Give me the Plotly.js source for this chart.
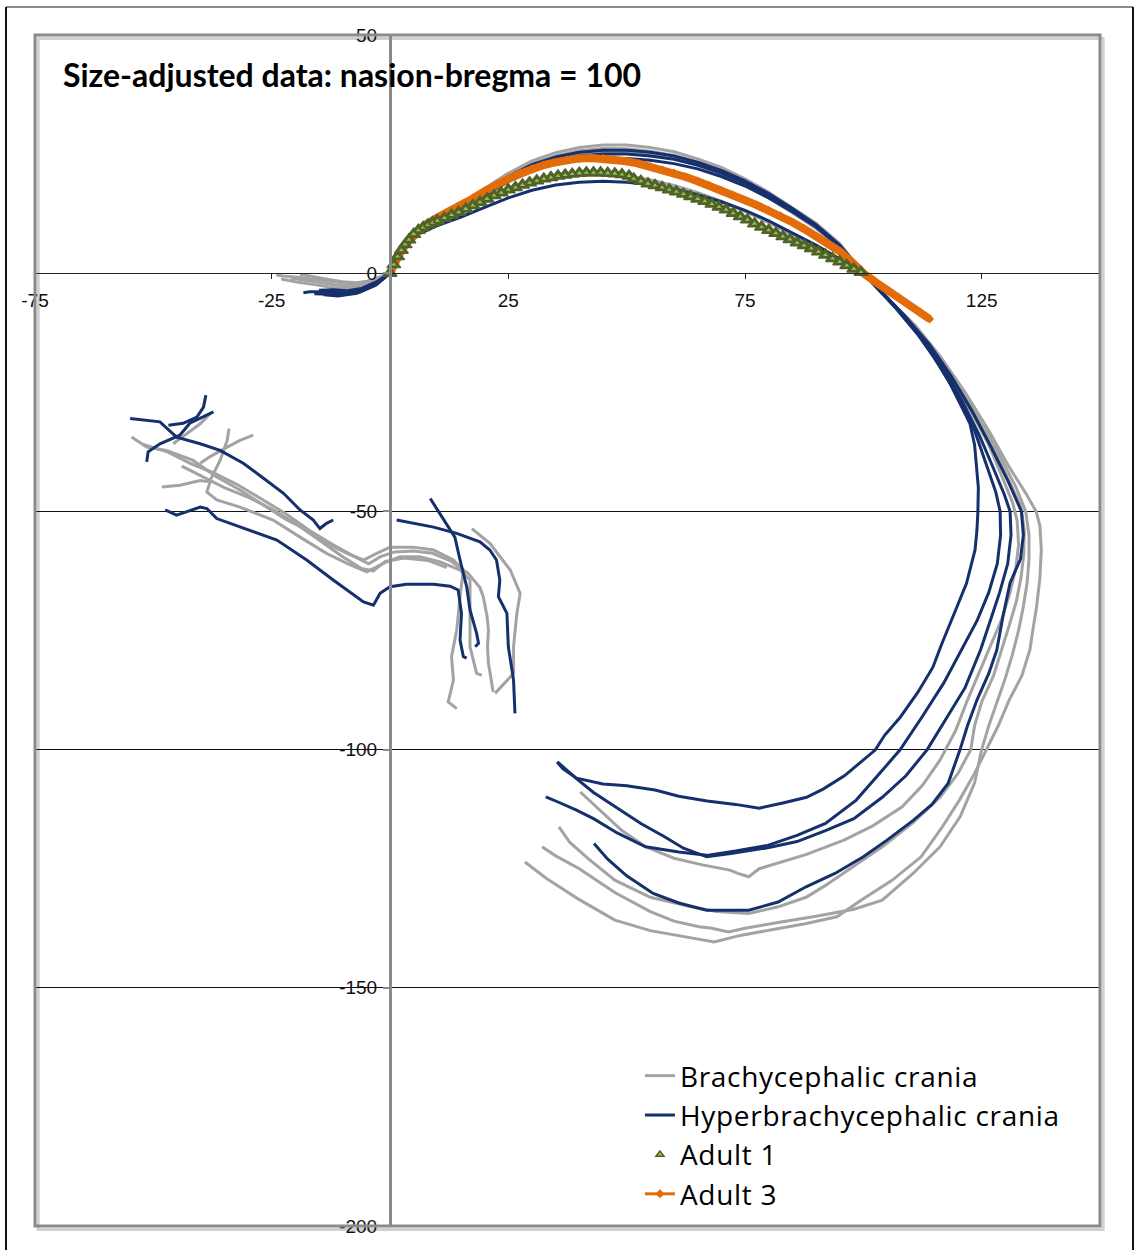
<!DOCTYPE html>
<html>
<head>
<meta charset="utf-8">
<script src="https://cdn.plot.ly/plotly-3.0.1.min.js"></script>
<style>
html,body{margin:0;padding:0;background:#fff;}
#chart{width:1136px;height:1250px;}
.legendtext{letter-spacing:0.7px;}
</style>
</head>
<body>
<div id="chart"></div>
<script>
// ---------- DATA (data units) ----------
const xTicks = [-75, -25, 25, 75, 125];
const yTicks = [-200, -150, -100, -50, 0, 50];
const legendNames = ["Brachycephalic crania", "Hyperbrachycephalic crania", "Adult 1", "Adult 3"];

// shared x positions used for the frontal/parietal arc (nasion 0 -> bregma 100)
const arcX = [0,1.5,3,6,10,15,20,25,30,35,40,45,50,55,60,65,70,75,80,85,90,95,100];

// ---- Brachycephalic crania (grey) ----
const brachy1_nasalX = [-23,-20,-16,-12,-8,-4.5,-2];
const brachy1_nasalY = [-1.2,-1.8,-2.4,-3,-3.2,-2.5,-1.2];
const brachy1_arcY = [0,3,5.5,8.8,11,13,15.3,17.4,19,20.1,20.7,20.8,20.4,19.6,18.4,16.9,15.1,13,10.6,8,5.4,2.7,0];
const brachy1_backX = [104.5,109,113.5,118,122.5,126.5,129.5,131.5,132.5,132.8,132.2,131,129.3,127,124.5,122,119.5,116.2,112.5,108.2,102,95.9,88,82,78,75.8,73.5,71.8,66,60,54,49,44,40.2];
const brachy1_backY = [-4.6,-9.5,-15,-21.5,-28.5,-36,-43,-48,-52,-57,-62,-67,-72.5,-78,-84,-89.6,-96,-102.2,-107.5,-112,-116,-119,-122,-123.8,-125,-126.7,-126,-125.3,-124.2,-122.8,-120.4,-117,-112.5,-108.9];
const brachy1_faceX = [-44,-40,-35,-30,-25,-20,-15,-10,-6,-3.5,-1,3,8,12];
const brachy1_faceY = [-40.5,-42.5,-45,-47,-49.5,-52.5,-56,-59.5,-62,-62.5,-60.5,-59.8,-60.3,-61.8];
const brachy1_baseX = [17.3,21.1,25.4,27.5,26.8,26.1,26.1,22.2];
const brachy1_baseY = [-53.6,-56.7,-62.3,-67.2,-71.4,-78.4,-84,-88.2];
const brachy1_twigX = [-40.1,-38,-34.4,-31.7,-28.9];
const brachy1_twigY = [-39.9,-38.5,-36.5,-35.1,-34];

const brachy2_nasalX = [-19,-16,-13,-10,-7,-4,-2];
const brachy2_nasalY = [-0.2,-0.8,-1.3,-1.8,-2,-1.6,-0.8];
const brachy2_arcY = [0,3.2,5.8,9.2,11.5,13.9,17,20,22.4,24,25,25.5,25.4,24.9,24,22.6,20.8,18.5,15.8,12.7,9.4,5.2,0];
const brachy2_backX = [104.8,109.8,114.5,119.3,123.8,127.8,131,133.3,134,133.9,133.3,132.3,130.8,129.3,127.5,125,123.5,122.7,120,116.2,110.5,104,98,92,87.9,82,75.8,69,63.6,55,47.5,42,38,35.7];
const brachy2_backY = [-4.9,-10,-15.8,-22.5,-30,-37.5,-44,-49,-54,-59,-64,-69,-74,-79,-84.5,-90,-95,-100,-105,-110,-115.3,-120.4,-124.5,-128.5,-131,-133,-134.4,-134,-133,-131,-127.4,-123,-119.5,-116.2];
const brachy2_faceX = [-52,-47,-42,-37,-32,-27,-22,-17,-12,-7.5,-4.5,-2,1,5,9,13,16.5,19,19.7,20.5,20.8,20.6,20.8,21.8];
const brachy2_faceY = [-36,-37.5,-40,-42,-44.5,-47.5,-50.5,-54,-57,-59.5,-61,-59.5,-58.5,-58.3,-58.8,-60.5,-63,-66,-67.9,-72,-74.9,-78.5,-81.9,-87.9];
const brachy2_twigX = [-45.8,-43,-40.1,-38];
const brachy2_twigY = [-35.8,-33.7,-31.6,-29.5];

const brachy3_nasalX = [-21,-18,-15,-12,-8.5,-5,-2.5];
const brachy3_nasalY = [-1,-1.5,-2,-2.4,-2.8,-2.3,-1.2];
const brachy3_arcY = [0,3.4,5.9,9.4,11.8,14.2,17.4,20.5,23,24.6,25.7,26.2,26.1,25.6,24.7,23.3,21.5,19.2,16.4,13.3,10,5.8,0];
const brachy3_backX = [105,110.3,115.3,120.3,125,129,132.3,134.3,135,135,134.6,133.8,132.8,131.5,130,128.4,126.5,125,123.5,120.5,116.2,110.5,104,98,90,82,75,71.5,68,65.3,60,55,47.5,40,35,32.1];
const brachy3_backY = [-5.2,-10.5,-16.5,-23.5,-31,-38.5,-45,-50,-55,-60,-65,-70,-75,-80,-85,-89.6,-95,-100,-107,-114,-120.4,-126,-131.6,-133.5,-135,-136.3,-137.5,-138.3,-137.5,-137.2,-136,-134,-130,-125,-122.3,-120.4];
const brachy3_faceX = [-48.2,-44.4,-40.1,-38,-38.7,-36.6,-31.7,-24.7,-19,-13.4,-9.1,-4.9,-1.4,2.1,6.3,10.6,14.8,16.9,16.9,16.9,18.3,19.4];
const brachy3_faceY = [-44.9,-44.5,-43.5,-43.8,-45.9,-47.6,-49.1,-51.8,-55.4,-58.8,-60.9,-62.7,-60.9,-59.5,-59.5,-60.6,-62.3,-64.4,-71.4,-78.4,-84,-84.4];
const brachy3_twigX = [-38,-35.9,-34.4,-34];
const brachy3_twigY = [-43.5,-39.3,-35.1,-32.6];

const brachy4_nasalX = [-24,-22.5,-19,-15.5,-12,-8.5,-4.9,-2.5];
const brachy4_nasalY = [-0.4,-0.6,-0.9,-1.3,-1.8,-2.2,-1.8,-1];
const brachy4_arcY = [0,3.5,6,9.7,12,14.5,17.8,21,23.6,25.3,26.4,26.9,26.9,26.4,25.5,24,22.2,19.8,17,13.8,10.5,6.2,0];
const brachy4_backX = [105.3,111,116.3,121.5,126.5,130.7,134.2,136.5,137.3,137.6,137.3,136.6,135.8,135.2,133.5,130.8,128.5,126,123.5,120.3,116.5,112.2,106,100,94.4,88,79.8,74,68.5,62,55,47.5,40,33,28.5];
const brachy4_backY = [-5.5,-11,-17.5,-25,-33,-40.5,-46,-50,-53,-58,-64,-70,-75,-79,-84.5,-89.6,-95,-100,-105,-110.6,-116.5,-122.5,-127.5,-131.3,-135.1,-136.5,-137.9,-139,-140.4,-139.3,-138,-135.8,-131.5,-127,-123.6];
const brachy4_faceX = [-54.6,-51.4,-47.2,-41.6,-36.6,-31.7,-26.1,-21.8,-17.6,-13.4,-9.1,-5.6,-2.8,0,4.9,9.2,13.4,15.5,14.8,14.1,13,13.4,12.3,14.1];
const brachy4_faceY = [-34.4,-36.5,-37.2,-39.3,-42.8,-45.5,-49.1,-51.8,-53.9,-56.7,-58.8,-60.2,-58.8,-57.5,-57.5,-58.1,-60.2,-62.3,-67.9,-74.9,-80.5,-85.4,-90,-91.4];

// ---- Hyperbrachycephalic crania (navy) ----
const hyper1_nasalX = [-18.3,-16.9,-13.4,-9.9,-6.3,-2.8];
const hyper1_nasalY = [-4.1,-3.9,-3.9,-4.1,-3.6,-2.2];
const hyper1_arcY = [0,3.3,5.9,9.3,11.6,14,17.2,20.3,22.8,24.4,25.4,25.8,25.8,25.4,24.6,23.3,21.6,19.4,16.7,13.6,10.2,5.9,0];
const hyper1_backX = [103.5,107,111.3,115,118.3,120.8,122.5,123.5,124,124.3,124.2,124,123.6,122.8,121.8,120,118.3,116.5,114.7,111.5,107.8,104.5,102.5,96,91.5,88,83,78,73,67,61,56,50,45,39.4,36.5,35.3];
const hyper1_backY = [-3.8,-7.5,-12.6,-17.8,-23.1,-28,-31.5,-36,-40.7,-45,-50.1,-54,-58.1,-61.5,-65.1,-69.5,-73.5,-78,-82.7,-88,-93.2,-97,-100.1,-105.5,-108.3,-110,-111.2,-112.3,-111.5,-110.8,-109.8,-108.5,-107.6,-107.2,-106,-104,-102.6];
const hyper1_faceX = [-54.9,-50.7,-48.6,-45.1,-40.1,-35.9,-31,-26.1,-22.5,-19,-16.2,-14.8,-13.4,-12];
const hyper1_faceY = [-30.5,-30.9,-31.2,-34.4,-35.8,-37.2,-39.9,-43.5,-46.2,-49.7,-51.8,-53.6,-52.5,-51.8];
const hyper1_baseX = [1.4,9.2,14.1,19,21.1,22.5,23.2,22.9,24.7,25,26.1,26.4];
const hyper1_baseY = [-51.8,-53.3,-54.6,-56.4,-58.1,-60.2,-64.4,-67.9,-71.4,-78.4,-85.4,-92.4];

const hyper2_nasalX = [-16,-13,-10,-6.5,-3];
const hyper2_nasalY = [-4.3,-4.4,-4.5,-4,-2.5];
const hyper2_arcY = [0,3.2,5.7,9,11.3,13.7,16.7,19.7,22.1,23.6,24.6,25,25,24.6,23.9,22.7,21,18.9,16.3,13.3,10,5.8,0];
const hyper2_backX = [104,108,112.5,116.5,120,123.5,126,128,128.9,129,128.3,126.5,124,120.8,117,112.5,107.8,103,98.5,92,86,79.8,73,66.9,61,54,48,43,39.4,35.5,32.9];
const hyper2_backY = [-4,-8.5,-14,-20,-26,-33,-40,-46,-50,-55,-61,-67,-73,-79,-86,-93,-100,-105.5,-110.6,-115.5,-118,-120.1,-121.3,-122.2,-121.5,-120.4,-117.5,-114.5,-112.7,-111,-109.9];
const hyper2_faceX = [-47.5,-45.1,-40.1,-38.7,-36.6,-29.6,-23.9,-17.6,-12,-5.6,-3.5,-2.1,0,3.5,9.2,12.7,14.4,15.1,14.8,15.5,16.2];
const hyper2_faceY = [-49.7,-50.8,-49.1,-49.4,-51.5,-53.9,-56,-60.2,-64.4,-69,-69.7,-67.2,-65.8,-65.3,-65.3,-65.7,-66.5,-71.4,-77,-80.5,-80.8];

const hyper3_nasalX = [-15,-12,-9,-6,-3];
const hyper3_nasalY = [-3.6,-3.5,-3.7,-3.2,-1.9];
const hyper3_arcY = [0,3.1,5.6,8.9,11.1,13.4,16.3,19.2,21.5,23,23.9,24.2,24.1,23.7,23,21.9,20.3,18.3,15.8,12.9,9.7,5.6,0];
const hyper3_backX = [104.3,108.8,113,117.3,121,124.5,127.5,129.8,131,131.2,130.5,128.8,126.8,124.8,121.5,117.5,113.5,109,104,98,92,86,79.8,72,66.9,62,58,53,47.5,43,39.4,35.4];
const hyper3_backY = [-4.4,-9,-14.5,-20.5,-27,-34,-41,-46.5,-50,-55,-61,-67,-73,-79,-87,-93.5,-100,-105.5,-110,-114.5,-117,-119.3,-120.6,-121.8,-122.5,-120.7,-118.3,-115.5,-112,-109,-106.1,-102.6];
const hyper3_faceX = [-51.4,-51.1,-48.6,-44.4,-42.3,-39.4,-37.3];
const hyper3_faceY = [-39.6,-37.5,-35.8,-34,-31.5,-30.2,-29.1];
const hyper3_baseX = [8.5,11.3,13.7,14.8,16.2,16.9,18.3,18.7,18];
const hyper3_baseY = [-47.3,-51.8,-55.4,-60.2,-65.8,-70.7,-75.6,-77.7,-78.4];

const hyper4_nasalX = [-14,-11,-7,-3.5];
const hyper4_nasalY = [-4.5,-4.8,-4.2,-2.6];
const hyper4_arcY = [0,2.8,5.2,8.2,10,11.8,13.8,15.8,17.4,18.5,19.1,19.3,19.1,18.6,17.7,16.5,15,13.2,11,8.5,5.9,3,0];
const hyper4_backX = [104.6,109.5,114,118.5,123,127,130.5,133.4,133.8,133.2,131,129.5,128.2,126.5,124,122,120.4,117.9,114.5,110.6,105,100,94,87.9,82,75.8,66.9,61,55.6,50,46,43.1];
const hyper4_backY = [-4.8,-9.8,-15,-21.5,-29,-36.5,-43.5,-50,-55,-60,-65,-72,-79.1,-84,-89.6,-95,-100.1,-107.1,-111.5,-114.8,-119,-122.5,-126,-128.8,-132,-133.7,-133.7,-132.2,-130.2,-126.5,-123,-119.7];
const hyper4_faceX = [-46.8,-43.7,-40.8,-39.4,-38.9];
const hyper4_faceY = [-31.9,-31.5,-30.2,-28.1,-25.6];

// ---- Adult 1 (green triangles) ----
const adult1X = [0,0.8,1.6,2.4,3.2,4,5,6,7,8,9,10,11.5,13,14.5,16,17.5,19,20.5,22,23.5,25,26.5,28,29.5,31,32.5,34,35.5,37,38.5,40,41.5,43,44.5,46,47.5,49,50.5,51.5,53,54.5,56,57.5,59,60.5,62,63.5,65,66.5,68,69.5,71,72.5,74,75.5,77,78.5,80,81.5,83,84.5,86,87.5,89,90.5,92,93.5,95,96.5,98,99.5];
const adult1Y = [0,1.8,3.5,4.8,6,7,8.2,9,9.6,10.1,10.6,11,11.6,12.2,12.8,13.5,14.2,14.9,15.6,16.3,16.9,17.5,18,18.5,19,19.4,19.8,20.1,20.4,20.6,20.8,21,21.1,21.1,21.1,21,20.9,20.7,20.4,19.8,19.3,18.8,18.4,18,17.5,17.1,16.6,16.1,15.6,15.1,14.5,13.9,13.3,12.6,11.9,11.2,10.4,9.7,9,8.4,7.7,7.1,6.4,5.8,5.2,4.5,3.8,3.1,2.4,1.6,0.9,0.2];

// ---- Adult 3 (orange line with diamonds) ----
const adult3X = [0,1,2,3.5,5,7.5,10,12.5,15,17.5,20,22.5,25,27.5,30,32.5,35,37.5,40,42.5,45,47.5,50,52.5,55,57.5,60,62.5,65,67.5,70,72.5,75,77.5,80,82.5,85,87.5,90,92.5,95,97.5,100,102.5,105,107.5,110,112,114];
const adult3Y = [0,2.2,4,6.3,8,10.2,11.7,12.9,14.2,15.7,17.2,18.6,19.8,20.9,21.9,22.7,23.3,23.8,24.1,24.2,24.1,23.9,23.5,23,22.4,21.7,21,20.2,19.3,18.4,17.4,16.4,15.3,14.3,13.2,12,10.7,9.3,7.8,6.3,4.6,2.4,0,-1.8,-3.5,-5.2,-6.9,-8.2,-9.6];

// ---------- BUILD ----------
function joinSegs(segs) {
  const out = [];
  segs.forEach((s, i) => { if (i > 0) out.push(null); s.forEach(v => out.push(v)); });
  return out;
}
const GREY = '#a3a3a3', NAVY = '#15306c', ORANGE = '#e36c0a', GREEN = '#4f6228';

const brachy = [
  {x: joinSegs([[...brachy1_nasalX, ...arcX, ...brachy1_backX], brachy1_faceX, brachy1_baseX, brachy1_twigX]),
   y: joinSegs([[...brachy1_nasalY, ...brachy1_arcY, ...brachy1_backY], brachy1_faceY, brachy1_baseY, brachy1_twigY])},
  {x: joinSegs([[...brachy2_nasalX, ...arcX, ...brachy2_backX], brachy2_faceX, brachy2_twigX]),
   y: joinSegs([[...brachy2_nasalY, ...brachy2_arcY, ...brachy2_backY], brachy2_faceY, brachy2_twigY])},
  {x: joinSegs([[...brachy3_nasalX, ...arcX, ...brachy3_backX], brachy3_faceX, brachy3_twigX]),
   y: joinSegs([[...brachy3_nasalY, ...brachy3_arcY, ...brachy3_backY], brachy3_faceY, brachy3_twigY])},
  {x: joinSegs([[...brachy4_nasalX, ...arcX, ...brachy4_backX], brachy4_faceX]),
   y: joinSegs([[...brachy4_nasalY, ...brachy4_arcY, ...brachy4_backY], brachy4_faceY])}
];
const hyper = [
  {x: joinSegs([[...hyper1_nasalX, ...arcX, ...hyper1_backX], hyper1_faceX, hyper1_baseX]),
   y: joinSegs([[...hyper1_nasalY, ...hyper1_arcY, ...hyper1_backY], hyper1_faceY, hyper1_baseY])},
  {x: joinSegs([[...hyper2_nasalX, ...arcX, ...hyper2_backX], hyper2_faceX]),
   y: joinSegs([[...hyper2_nasalY, ...hyper2_arcY, ...hyper2_backY], hyper2_faceY])},
  {x: joinSegs([[...hyper3_nasalX, ...arcX, ...hyper3_backX], hyper3_faceX, hyper3_baseX]),
   y: joinSegs([[...hyper3_nasalY, ...hyper3_arcY, ...hyper3_backY], hyper3_faceY, hyper3_baseY])},
  {x: joinSegs([[...hyper4_nasalX, ...arcX, ...hyper4_backX], hyper4_faceX]),
   y: joinSegs([[...hyper4_nasalY, ...hyper4_arcY, ...hyper4_backY], hyper4_faceY])}
];

const traces = [];
brachy.forEach((s, i) => traces.push({
  type: 'scatter', mode: 'lines', x: s.x, y: s.y, name: legendNames[0],
  legendgroup: 'b', showlegend: i === 0, legendrank: 1, connectgaps: false,
  line: {color: GREY, width: 3}, hoverinfo: 'skip'
}));
hyper.forEach((s, i) => traces.push({
  type: 'scatter', mode: 'lines', x: s.x, y: s.y, name: legendNames[1],
  legendgroup: 'h', showlegend: i === 0, legendrank: 2, connectgaps: false,
  line: {color: NAVY, width: 3}, hoverinfo: 'skip'
}));
// Adult 3: thick band in the plot (no legend) + legend-styled line with diamonds
traces.push({
  type: 'scatter', mode: 'lines', x: adult3X, y: adult3Y, name: legendNames[3],
  legendgroup: 'a3', showlegend: false, line: {color: ORANGE, width: 8}, hoverinfo: 'skip'
});
traces.push({
  type: 'scatter', mode: 'lines+markers', x: adult3X, y: adult3Y, name: legendNames[3],
  legendgroup: 'a3', legendrank: 4, line: {color: ORANGE, width: 3},
  marker: {symbol: 'diamond', size: 7, color: ORANGE}, hoverinfo: 'skip'
});
// Adult 1: dense olive triangles
traces.push({
  type: 'scatter', mode: 'markers', x: adult1X, y: adult1Y, name: legendNames[2],
  legendgroup: 'a1', showlegend: false,
  marker: {symbol: 'triangle-up', size: 12, color: '#56702b', line: {color: GREEN, width: 1.5}}, hoverinfo: 'skip'
});
traces.push({
  type: 'scatter', mode: 'markers', x: adult1X, y: adult1Y, name: legendNames[2],
  legendgroup: 'a1', legendrank: 3,
  marker: {symbol: 'triangle-up', size: 7, color: '#9bbb59', line: {color: GREEN, width: 1.5}}, hoverinfo: 'skip'
});

const L = 35, R = 1100, T = 35, B = 1226;
const layout = {
  width: 1136, height: 1250,
  margin: {l: L, r: 1136 - R, t: T, b: 1250 - B, pad: 0},
  paper_bgcolor: '#ffffff', plot_bgcolor: '#ffffff',
  showlegend: true, hovermode: false,
  font: {family: 'Liberation Sans, Arial, sans-serif', color: '#000'},
  title: {
    text: 'Size-adjusted data: nasion-bregma = 100',
    font: {family: 'Lato, sans-serif', size: 32, color: '#000', weight: 700},
    x: (63 - L) / (R - L), xref: 'paper', xanchor: 'left',
    y: (B - 76) / (B - T), yref: 'paper', yanchor: 'middle'
  },
  xaxis: {
    range: [-75, 150], anchor: 'free', position: 0.8,
    tickvals: xTicks, ticktext: xTicks.map(String),
    showgrid: false, zeroline: false,
    showline: true, linecolor: '#222', linewidth: 1,
    ticks: 'outside', ticklen: 5, tickcolor: '#222', tickwidth: 1,
    ticklabelstandoff: 5,
    tickfont: {family: 'Liberation Sans, Arial, sans-serif', size: 19, color: '#111'}
  },
  yaxis: {
    range: [-200, 50], anchor: 'free', position: 1/3,
    tickvals: yTicks, ticktext: yTicks.map(String),
    showgrid: true, gridcolor: '#111', gridwidth: 1, zeroline: false,
    showline: true, linecolor: '#8a8a8a', linewidth: 2.5,
    ticks: 'outside', ticklen: 6, tickcolor: '#8a8a8a', tickwidth: 2,
    ticklabelstandoff: 2,
    tickfont: {family: 'Liberation Sans, Arial, sans-serif', size: 19, color: '#111'}
  },
  legend: {
    x: 0.568, y: 0.147, xanchor: 'left', yanchor: 'top',
    bgcolor: 'rgba(0,0,0,0)', borderwidth: 0,
    font: {family: 'Open Sans, sans-serif', size: 28, color: '#000'},
    tracegroupgap: 0, itemwidth: 30
  },
  shapes: [
    {type: 'rect', xref: 'paper', yref: 'paper', x0: 0.003, x1: 1.003, y0: -0.003, y1: 0.997,
     line: {color: '#d0d0d0', width: 3}, layer: 'below'},
    {type: 'rect', xref: 'paper', yref: 'paper', x0: 0, x1: 1, y0: 0, y1: 1,
     line: {color: '#8a8a8a', width: 3}, layer: 'above'},
    {type: 'line', xref: 'paper', yref: 'paper', x0: (6 - L) / (R - L), x1: (1133 - L) / (R - L),
     y0: (B - 7) / (B - T), y1: (B - 7) / (B - T), line: {color: '#8a8a8a', width: 2}},
    {type: 'line', xref: 'paper', yref: 'paper', x0: (6 - L) / (R - L), x1: (6 - L) / (R - L),
     y0: (B - 7) / (B - T), y1: (B - 1260) / (B - T), line: {color: '#111', width: 2}},
    {type: 'line', xref: 'paper', yref: 'paper', x0: (1133 - L) / (R - L), x1: (1133 - L) / (R - L),
     y0: (B - 7) / (B - T), y1: (B - 1260) / (B - T), line: {color: '#111', width: 2}}
  ]
};

Plotly.newPlot('chart', traces, layout, {staticPlot: true, displayModeBar: false});
</script>
</body>
</html>
